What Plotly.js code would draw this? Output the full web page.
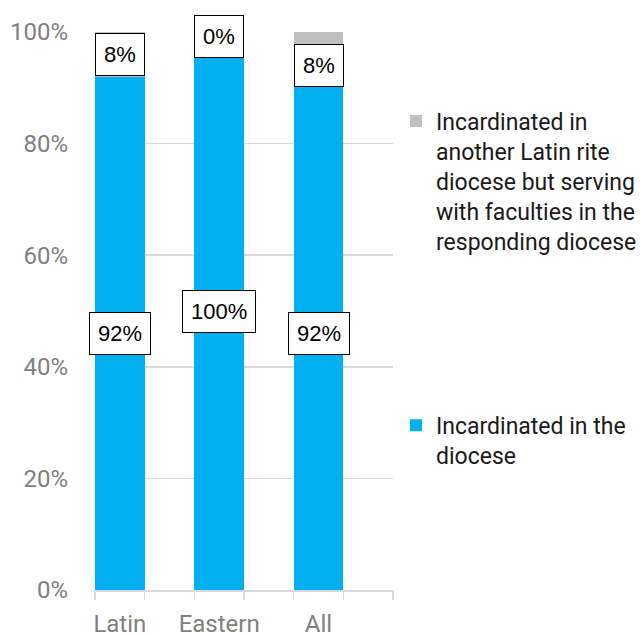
<!DOCTYPE html>
<html>
<head>
<meta charset="utf-8">
<script src="https://cdn.plot.ly/plotly-3.0.1.min.js"></script>
<style>
  html, body { margin: 0; padding: 0; background: #fff; }
  #chart { width: 641px; height: 637px; }
</style>
</head>
<body>
<div id="chart"></div>
<script>
// ---- Data ----
const categories = ["Latin", "Eastern", "All"];
const incardinatedDiocese = [92, 100, 92];
const incardinatedOther = [8, 0, 8];
const seriesNames = [
  "Incardinated in the<br>diocese",
  "Incardinated in<br>another Latin rite<br>diocese but serving<br>with faculties in the<br>responding diocese"
];
const yTickVals = [0, 20, 40, 60, 80, 100];
const yTickText = ["0%", "20%", "40%", "60%", "80%", "100%"];
// label vertical nudges (px) to match the reference placement
const otherLabelShift = [0, -4, -11];

const BLUE = "#00B0F0";
const GRAY = "#BFBFBF";
const TICKFONT = { family: "Roboto, 'Open Sans', sans-serif", size: 24, color: "#808080" };

const traces = [
  {
    type: "bar", name: seriesNames[0], x: categories, y: incardinatedDiocese,
    width: 0.5, marker: { color: BLUE }, legend: "legend",
    hoverinfo: "skip"
  },
  {
    type: "bar", name: seriesNames[1], x: categories, y: incardinatedOther,
    width: 0.5, marker: { color: GRAY }, legend: "legend2",
    hoverinfo: "skip"
  },
  // empty helper trace so the tick-mark axis (x2) is drawn
  {
    type: "scatter", mode: "markers", x: [], y: [], xaxis: "x2", yaxis: "y",
    showlegend: false, hoverinfo: "skip"
  }
];

const labelStyle = {
  showarrow: false,
  font: { family: "'Liberation Sans', Arial, sans-serif", size: 22, color: "#000" },
  bgcolor: "#ffffff", bordercolor: "#000000", borderwidth: 1, borderpad: 8,
  xref: "x", yref: "y"
};
const annotations = [];
categories.forEach((c, i) => {
  annotations.push(Object.assign({}, labelStyle, {
    x: c, y: incardinatedDiocese[i] / 2, text: incardinatedDiocese[i] + "%"
  }));
  annotations.push(Object.assign({}, labelStyle, {
    x: c, y: incardinatedDiocese[i] + incardinatedOther[i] / 2,
    text: incardinatedOther[i] + "%", yshift: otherLabelShift[i]
  }));
});

const legendFont = { family: "Roboto, 'Open Sans', sans-serif", size: 23, color: "#1a1a1a" };

const layout = {
  width: 641, height: 637,
  margin: { l: 95, r: 248, t: 32, b: 47, pad: 0, autoexpand: false },
  paper_bgcolor: "#ffffff", plot_bgcolor: "#ffffff",
  barmode: "stack",
  showlegend: true,
  xaxis: {
    type: "category", categoryorder: "array", categoryarray: categories,
    range: [-0.25, 2.75], fixedrange: true,
    showgrid: false, zeroline: false,
    showline: true, linecolor: "#d9d9d9", linewidth: 1.5,
    ticks: "", tickfont: TICKFONT, ticklabelstandoff: 12
  },
  xaxis2: {
    type: "linear", overlaying: "x", anchor: "y", side: "bottom",
    range: [-0.25, 2.75], tick0: -0.25, dtick: 0.5,
    ticks: "outside", ticklen: 9, tickcolor: "#d9d9d9", tickwidth: 1.5,
    showticklabels: false, showgrid: false, zeroline: false, showline: false,
    fixedrange: true
  },
  yaxis: {
    range: [0, 100], tickvals: yTickVals, ticktext: yTickText,
    showgrid: true, gridcolor: "#d9d9d9", gridwidth: 1.5,
    zeroline: false, showline: false, ticks: "",
    tickfont: TICKFONT, ticklabelstandoff: 26, fixedrange: true
  },
  legend: {
    x: 1.01, xanchor: "left", y: 0.3336, yanchor: "top",
    font: legendFont, valign: "top", bgcolor: "rgba(0,0,0,0)",
    itemclick: false, itemdoubleclick: false
  },
  legend2: {
    x: 1.01, xanchor: "left", y: 0.879, yanchor: "top",
    font: legendFont, valign: "top", bgcolor: "rgba(0,0,0,0)",
    itemclick: false, itemdoubleclick: false
  },
  annotations: annotations
};

Plotly.newPlot("chart", traces, layout, { displayModeBar: false, staticPlot: true });
</script>
</body>
</html>
